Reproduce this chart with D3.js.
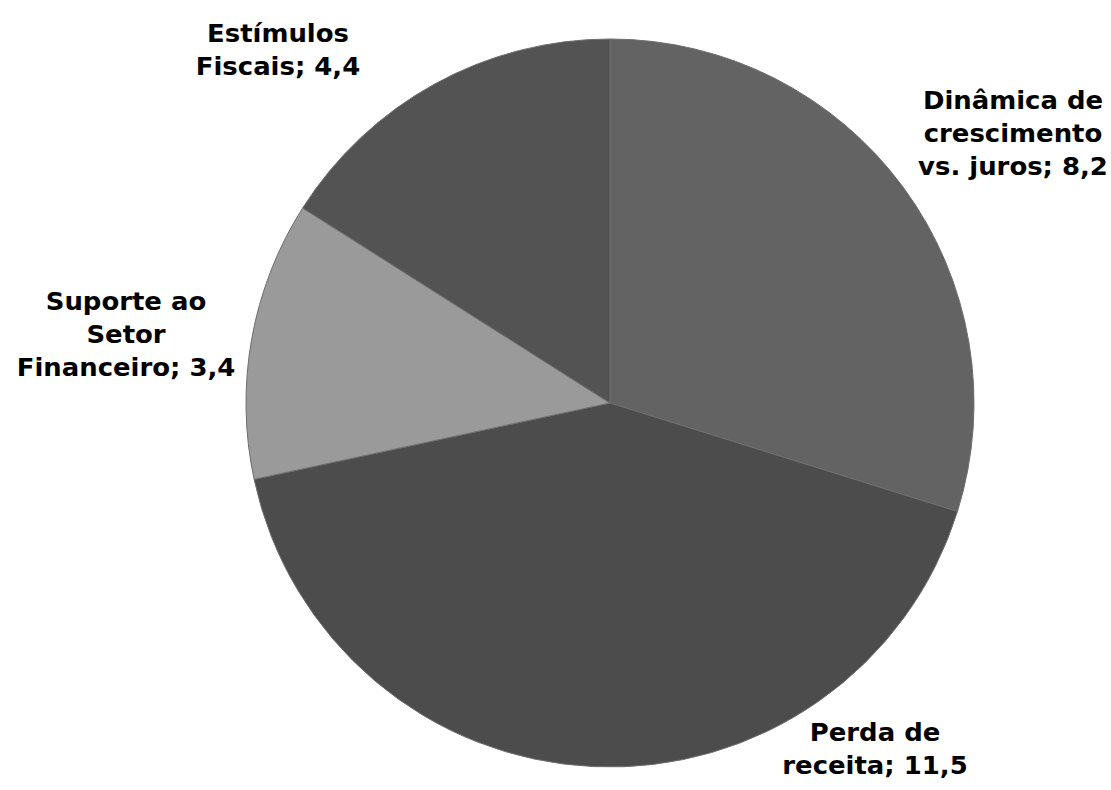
<!DOCTYPE html>
<html>
<head>
<meta charset="utf-8">
<script src="https://cdn.jsdelivr.net/npm/d3@7"></script>
<style>
  body { margin: 0; background: #fff; }
</style>
</head>
<body>
<div id="vis"></div>
<script>
const categories = ["Dinâmica de crescimento vs. juros", "Perda de receita", "Suporte ao Setor Financeiro", "Estímulos Fiscais"];
const values = [8.2, 11.5, 3.4, 4.4];
const colors = ["#636363", "#4c4c4c", "#9a9a9a", "#535353"];
// label lines as they wrap in the picture
const labelLines = [
  ["Dinâmica de", "crescimento", "vs. juros; 8,2"],
  ["Perda de", "receita; 11,5"],
  ["Suporte ao", "Setor", "Financeiro; 3,4"],
  ["Estímulos", "Fiscais; 4,4"]
];
const labelPos = [[1013, 109], [875, 741], [126, 310], [278, 42]];

const layout = { width: 1111, height: 790, cx: 610, cy: 403, r: 364, lineHeight: 33 };

const data = categories.map((c, i) => ({ name: c, value: values[i], color: colors[i], lines: labelLines[i], pos: labelPos[i] }));

let svg = d3.select("#vis").append("svg")
  .attr("width", layout.width)
  .attr("height", layout.height);

let pie = d3.pie().sort(null).value(d => d.value);
let arc = d3.arc().innerRadius(0).outerRadius(layout.r);

let g = svg.append("g").attr("transform", `translate(${layout.cx},${layout.cy})`);
g.selectAll("path")
  .data(pie(data))
  .join("path")
  .attr("d", arc)
  .attr("fill", d => d.data.color)
  .attr("stroke", "#6e6e6e")
  .attr("stroke-width", 1);

// labels - slightly widened to match the original's wide bold face
let labels = svg.append("g")
  .attr("font-family", "'DejaVu Sans', sans-serif")
  .attr("font-weight", "bold")
  .attr("font-size", 24)
  .attr("fill", "#000")
  .attr("text-anchor", "middle");
data.forEach(d => {
  let t = labels.append("text")
    .attr("transform", `translate(${d.pos[0]},${d.pos[1]}) scale(1.08,1)`);
  d.lines.forEach((line, i) => {
    t.append("tspan").attr("x", 0).attr("dy", i === 0 ? 0 : layout.lineHeight).text(line);
  });
});
</script>
</body>
</html>
